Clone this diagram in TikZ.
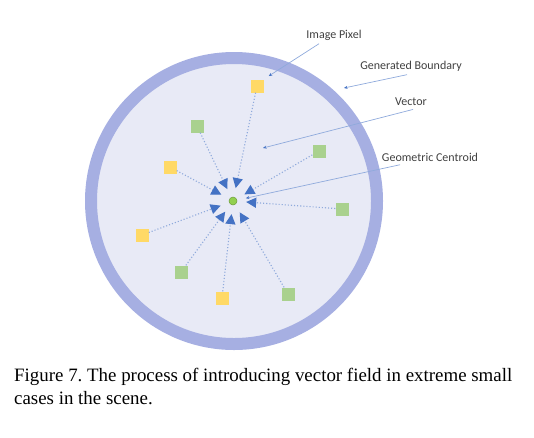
\documentclass[tikz,border=0pt]{standalone}
\usepackage{fontspec}
\setmainfont{Liberation Serif}
\newfontfamily\labelfont{Carlito}
\usetikzlibrary{arrows.meta}

\definecolor{fieldfill}{RGB}{232,234,246}
\definecolor{ringblue}{RGB}{166,175,226}
\definecolor{tipblue}{RGB}{68,114,196}
\definecolor{dotblue}{RGB}{143,170,220}
\definecolor{pixyellow}{RGB}{255,217,102}
\definecolor{pixgreen}{RGB}{169,209,142}
\definecolor{centgreen}{RGB}{146,208,80}
\definecolor{labelgray}{RGB}{64,64,64}

\begin{document}
\begin{tikzpicture}[x=1pt, y=-1pt,
    yellow pixel/.style={fill=pixyellow, minimum size=13pt, inner sep=0pt},
    green pixel/.style={fill=pixgreen, minimum size=13pt, inner sep=0pt},
    vector style/.style={draw=dotblue, line width=1.1pt, dotted,
        -{Triangle[length=10pt, width=10pt, color=tipblue, fill=tipblue]}},
    label style/.style={font=\labelfont\fontsize{12}{14}\selectfont, text=labelgray},
    pointer style/.style={draw=dotblue, line width=0.7pt,
        -{Stealth[length=3.5pt, width=3pt, color=tipblue, fill=tipblue]}},]
    \useasboundingbox (0,0) rectangle (534,437);

    \pgfmathsetmacro{\rad}{143}

    % field and boundary
    \fill[fieldfill] (234,201) circle (\rad);
    \draw[ringblue, line width=12pt] (234,201) circle (\rad);

    % centroid
    \node[circle, minimum size=26pt, inner sep=0pt] (c) at (233,201) {};
    \node[circle, fill=centgreen, draw=centgreen!75!black, line width=0.5pt,
        minimum size=8pt, inner sep=0pt] (dot) at (c) {};

    % image pixels
    \node[yellow pixel] (p1) at (257,86) {};
    \node[green pixel]  (p2) at (197,126) {};
    \node[yellow pixel] (p3) at (170,167) {};
    \node[green pixel]  (p4) at (319,151) {};
    \node[green pixel]  (p5) at (342,209) {};
    \node[yellow pixel] (p6) at (142,235) {};
    \node[green pixel]  (p7) at (181,272) {};
    \node[yellow pixel] (p8) at (222,298) {};
    \node[green pixel]  (p9) at (288,294) {};

    \foreach \p in {p1,p2,p3,p4,p5,p6,p7,p8,p9}
        \draw[vector style] (\p) -- (c);

    % labels
    \node[label style] (ipl) at (334,35) {Image Pixel};
    \node[label style] (gbl) at (411,66) {Generated Boundary};
    \node[label style] (vl)  at (411,102) {Vector};
    \node[label style] (gcl) at (430,157) {Geometric Centroid};

    \coordinate (gb head) at (344,88);
    \coordinate (v head) at (263,148);

    \draw[pointer style, shorten >=6pt] ([xshift=-15pt]ipl.south) -- (p1.north east);
    \draw[pointer style] ([xshift=-4pt]gbl.south) -- (gb head);
    \draw[pointer style] ([xshift=2pt]vl.south) -- (v head);
    \draw[pointer style] ([xshift=-30pt]gcl.south) -- (c);

    % caption
    \node[anchor=base west, align=left, inner sep=0pt,
        font=\frenchspacing\fontsize{18.9}{22.5}\selectfont] (caption) at (14,404)
        {Figure 7. The process of introducing vector field in extreme small\\cases in the scene.};
\end{tikzpicture}
\end{document}
